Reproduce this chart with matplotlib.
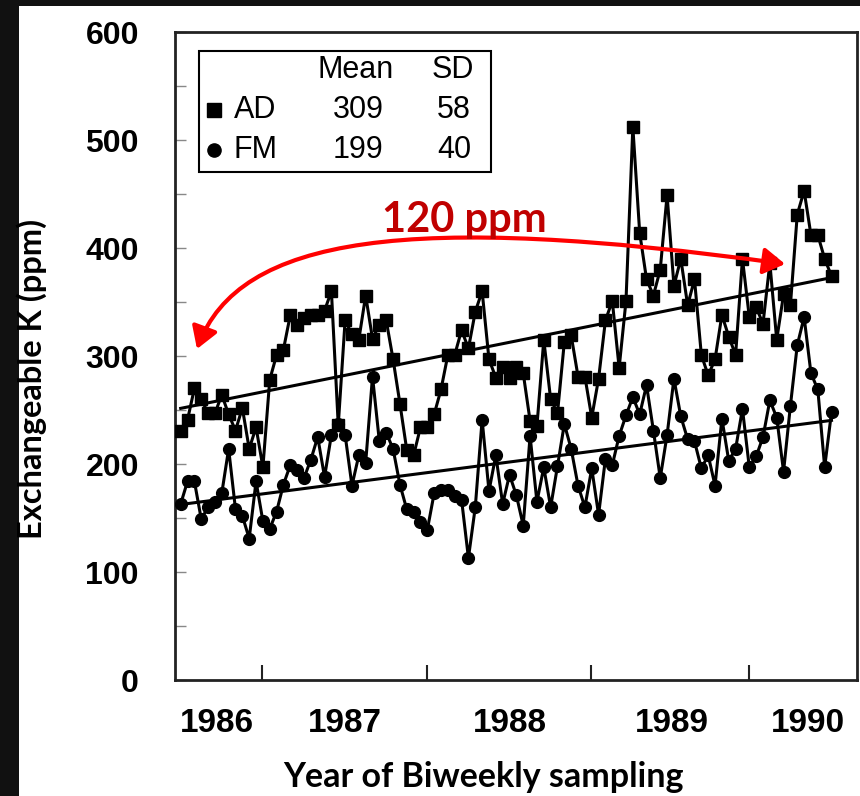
import matplotlib
matplotlib.use('Agg')
import matplotlib.pyplot as plt
import numpy as np
from matplotlib.patches import Rectangle, FancyArrowPatch
from matplotlib.path import Path

# ---------------- data ----------------
ad_values = [231, 241, 270, 260, 247, 247, 264, 246, 231, 252,
             214, 234, 197, 278, 301, 306, 338, 329, 335, 338,
             338, 342, 360, 236, 333, 320, 315, 356, 316, 329,
             333, 297, 256, 213, 208, 234, 234, 246, 269, 301,
             301, 324, 307, 341, 360, 297, 280, 290, 280, 290,
             284, 240, 235, 315, 260, 247, 313, 319, 281, 281,
             243, 279, 333, 351, 289, 351, 512, 414, 371, 356,
             380, 449, 365, 390, 347, 371, 301, 282, 297, 338,
             318, 301, 390, 336, 345, 330, 386, 315, 357, 347,
             431, 453, 412, 412, 390, 374]
fm_values = [163, 184, 184, 149, 160, 165, 173, 214, 158, 152,
             131, 184, 147, 140, 156, 181, 199, 194, 187, 204,
             225, 188, 227, 237, 227, 180, 208, 201, 281, 221,
             229, 214, 181, 158, 156, 146, 139, 173, 176, 176,
             170, 167, 113, 160, 241, 175, 208, 163, 190, 171,
             143, 226, 165, 197, 160, 198, 237, 214, 180, 160,
             196, 153, 205, 199, 226, 245, 262, 246, 273, 231,
             187, 227, 279, 244, 223, 221, 196, 208, 180, 242,
             203, 214, 251, 197, 207, 225, 259, 243, 193, 254,
             310, 336, 284, 269, 197, 248]
year_labels = ['1986', '1987', '1988', '1989', '1990']
year_label_pos = [5.3, 24.0, 48.1, 71.7, 91.6]      # sample index
year_boundaries = [11.9, 36.0, 59.9, 83.0]          # sample index
legend_rows = [('AD', 309, 58, 's'), ('FM', 199, 40, 'o')]

arial = 'Liberation Sans'
calibri = 'Lato'

W, H = 860, 796
fig = plt.figure(figsize=(W / 100, H / 100), dpi=100)
fig.patch.set_facecolor('white')
fig.patches.append(Rectangle((0, 0), 19 / W, 1, transform=fig.transFigure,
                             facecolor='#111111', edgecolor='none', zorder=0))
fig.patches.append(Rectangle((0, 1 - 6 / H), 1, 6 / H, transform=fig.transFigure,
                             facecolor='#111111', edgecolor='none', zorder=0))

ax = fig.add_axes([175 / W, 1 - 680 / H, (857 - 175) / W, (680 - 32) / H])
x = np.arange(len(ad_values))

ax.plot(x, ad_values, color='black', lw=2.2, marker='s', ms=9, mfc='black', mec='black', zorder=3)
ax.plot(x, fm_values, color='black', lw=2.2, marker='o', ms=8.5, mfc='black', mec='black', zorder=3)

# linear trends
for vals in (ad_values, fm_values):
    k, b = np.polyfit(x, vals, 1)
    ax.plot([x[0], x[-1]], [k * x[0] + b, k * x[-1] + b], color='black', lw=2.2, zorder=2)

ax.set_xlim(-0.83, 98.72)
ax.set_ylim(0, 600)

# y axis
ax.set_yticks(np.arange(0, 601, 100))
ax.set_yticks(np.arange(50, 600, 100), minor=True)
ax.tick_params(axis='y', which='both', direction='in', length=8, width=1, color='#888888',
               pad=26)
for lab in ax.get_yticklabels():
    lab.set_fontfamily(arial)
    lab.set_fontweight('bold')
    lab.set_fontsize(23)

# x axis
ax.set_xticks(year_boundaries)
ax.set_xticklabels([])
ax.tick_params(axis='x', which='major', direction='in', length=11, width=1.5, color='#222222')
ax.set_xticks(year_label_pos, minor=True)
ax.set_xticklabels(year_labels, minor=True, fontfamily=arial, fontweight='bold', fontsize=24)
ax.tick_params(axis='x', which='minor', length=0, pad=20)

for s in ax.spines.values():
    s.set_linewidth(2)
    s.set_color('#222222')

fig.text(483 / W, 1 - 777 / H, 'Year of Biweekly sampling', fontfamily=calibri,
         fontweight='bold', fontsize=24.5, ha='center', va='center')
fig.text(32 / W, 1 - 379 / H, 'Exchangeable K (ppm)', fontfamily=calibri,
         fontweight='bold', fontsize=23.5, ha='center', va='center', rotation=90)

# ---------------- legend table ----------------
def ax_xy(px, py):
    return ((px - 175) / (857 - 175), (680 - py) / (680 - 32))

x0, y0 = ax_xy(199, 172)
x1, y1 = ax_xy(491, 51)
ax.add_patch(Rectangle((x0, y0), x1 - x0, y1 - y0, transform=ax.transAxes,
                       facecolor='white', edgecolor='black', lw=1.5, zorder=5))
tk = dict(transform=ax.transAxes, fontfamily=arial, fontsize=22, zorder=6, va='center')
ax.text(*ax_xy(356, 70), 'Mean', ha='center', **tk)
ax.text(*ax_xy(453, 70), 'SD', ha='center', **tk)
for i, (name, mean, sd, mk) in enumerate(legend_rows):
    py = 110 + 40 * i
    ax.plot(*ax_xy(214, py), marker=mk, ms=9.5, color='black',
            transform=ax.transAxes, zorder=6, clip_on=False)
    ax.text(*ax_xy(234, py), name, ha='left', **tk)
    ax.text(*ax_xy(358, py), str(mean), ha='center', **tk)
    ax.text(*ax_xy(454, py), str(sd), ha='center', **tk)

# ---------------- annotation ----------------
def dxy(px, py):
    return ((px - 180.7) / 6.85, (680 - py) / 1.08)

verts = [dxy(197, 349), dxy(239, 236), dxy(408, 212), dxy(785, 264)]
path = Path(verts, [Path.MOVETO, Path.CURVE4, Path.CURVE4, Path.CURVE4])
arrow = FancyArrowPatch(path=path, arrowstyle='<|-|>,head_length=13,head_width=8',
                        color='#FF0000', lw=3, zorder=4, transform=ax.transData,
                        shrinkA=0, shrinkB=0, mutation_scale=1)
ax.add_patch(arrow)
ax.text(*dxy(464, 220), '120 ppm', color='#C00000', fontfamily=calibri, fontweight='bold',
        fontsize=30, ha='center', va='center', zorder=6)

fig.savefig('out.png', dpi=100, facecolor='white')
